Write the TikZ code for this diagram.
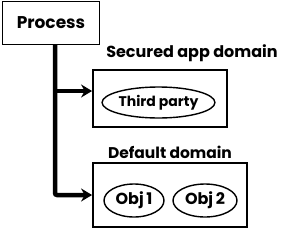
\documentclass[tikz,border=0pt]{standalone}
\usepackage{fontspec}
\setmainfont{Poppins}
\usetikzlibrary{arrows.meta,shapes.geometric}
\begin{document}
\begin{tikzpicture}[x=1pt,y=-1pt,
  box/.style={draw,line width=1.8pt,inner sep=0pt},
  obj/.style={draw,ellipse,line width=1.4pt,inner sep=0pt},
  lbl/.style={font=\fontsize{16}{16}\selectfont\bfseries,inner sep=0pt},
  conn/.style={line width=4.5pt,-{Stealth[length=11pt,width=13pt]}}]
\useasboundingbox (0,0) rectangle (281,228);
\node[box,minimum width=97pt,minimum height=43pt,font=\fontsize{17}{17}\selectfont\bfseries] (process) at (51,23) {Process};
\node[box,minimum width=134pt,minimum height=57pt] (sec) at (160,98.5) {};
\node[lbl] (seclbl) at (192,53) {Secured app domain};
\node[obj,minimum width=109pt,minimum height=31pt,font=\fontsize{14}{14}\selectfont\bfseries] (tp) at (158.5,102.5) {Third party};
\node[box,minimum width=154pt,minimum height=64pt] (def) at (170,195) {};
\node[lbl,font=\fontsize{15.5}{15.5}\selectfont\bfseries] (deflbl) at (170,152) {Default domain};
\node[obj,minimum width=60pt,minimum height=33pt,font=\fontsize{16}{16}\selectfont\bfseries] (o1) at (134,200.5) {Obj\,1};
\node[obj,minimum width=64pt,minimum height=33pt,font=\fontsize{16}{16}\selectfont\bfseries] (o2) at (205,200.5) {Obj\,2};
\coordinate (top) at ([xshift=4pt]process.south);
\coordinate (br) at (top |- 0,91);
\draw[conn,rounded corners=2pt,shorten <=-1pt] (top) |- (def.west);
\draw[conn] (br) -- (sec.west |- br);
\end{tikzpicture}
\end{document}
